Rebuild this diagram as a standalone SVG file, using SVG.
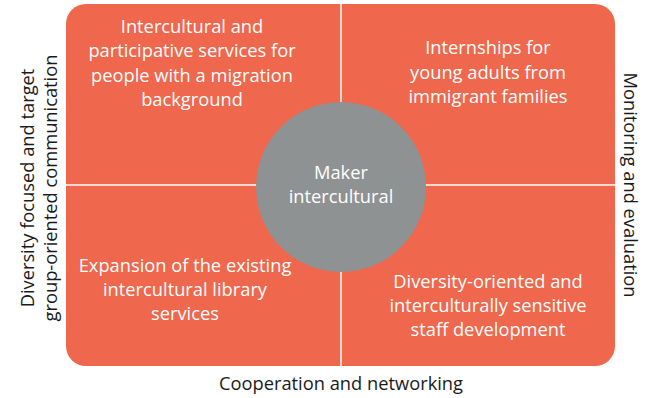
<svg xmlns="http://www.w3.org/2000/svg" width="649" height="398" viewBox="0 0 649 398">
<style>
.t{font-family:"Open Sans","Noto Sans",sans-serif;font-size:18.3px;fill:#ffffff;text-anchor:middle}
.s{font-family:"Open Sans","Noto Sans",sans-serif;font-size:18.3px;fill:#1a1a1a;text-anchor:middle}
</style>
<rect width="649" height="398" fill="#ffffff"/>
<g id="quadrants">
<rect x="66" y="4" width="549" height="362" rx="20" ry="20" fill="#EF674C"/>
</g>
<g id="connectors">
<line x1="341" y1="4" x2="341" y2="366" stroke="#ffffff" stroke-width="1.5"/>
<line x1="66" y1="185" x2="615" y2="185" stroke="#ffffff" stroke-width="1.5"/>
</g>
<g id="q1">
<text class="t"><tspan x="192" y="33">Intercultural and</tspan><tspan x="192" y="57">participative services for</tspan><tspan x="192" y="82">people with a migration</tspan><tspan x="192" y="106">background</tspan></text>
</g>
<g id="q2">
<text class="t"><tspan x="488" y="54">Internships for</tspan><tspan x="488" y="79">young adults from</tspan><tspan x="488" y="103">immigrant families</tspan></text>
</g>
<g id="q3">
<text class="t"><tspan x="185" y="272">Expansion of the existing</tspan><tspan x="185" y="296">intercultural library</tspan><tspan x="185" y="320">services</tspan></text>
</g>
<g id="q4">
<text class="t"><tspan x="488" y="288">Diversity-oriented and</tspan><tspan x="488" y="312">interculturally sensitive</tspan><tspan x="488" y="336">staff development</tspan></text>
</g>
<g id="center">
<circle cx="341" cy="187" r="85" fill="#8F9292"/>
<text class="t"><tspan x="341" y="179">Maker</tspan><tspan x="341" y="203">intercultural</tspan></text>
</g>
<g id="left-label">
<text class="s" transform="translate(34,188) rotate(-90)"><tspan x="0" y="0">Diversity focused and target</tspan><tspan x="0" y="23">group-oriented communication</tspan></text>
</g>
<g id="right-label">
<text class="s" transform="translate(624,185) rotate(90)">Monitoring and evaluation</text>
</g>
<g id="bottom-label">
<text class="s" x="341" y="390">Cooperation and networking</text>
</g>
</svg>
